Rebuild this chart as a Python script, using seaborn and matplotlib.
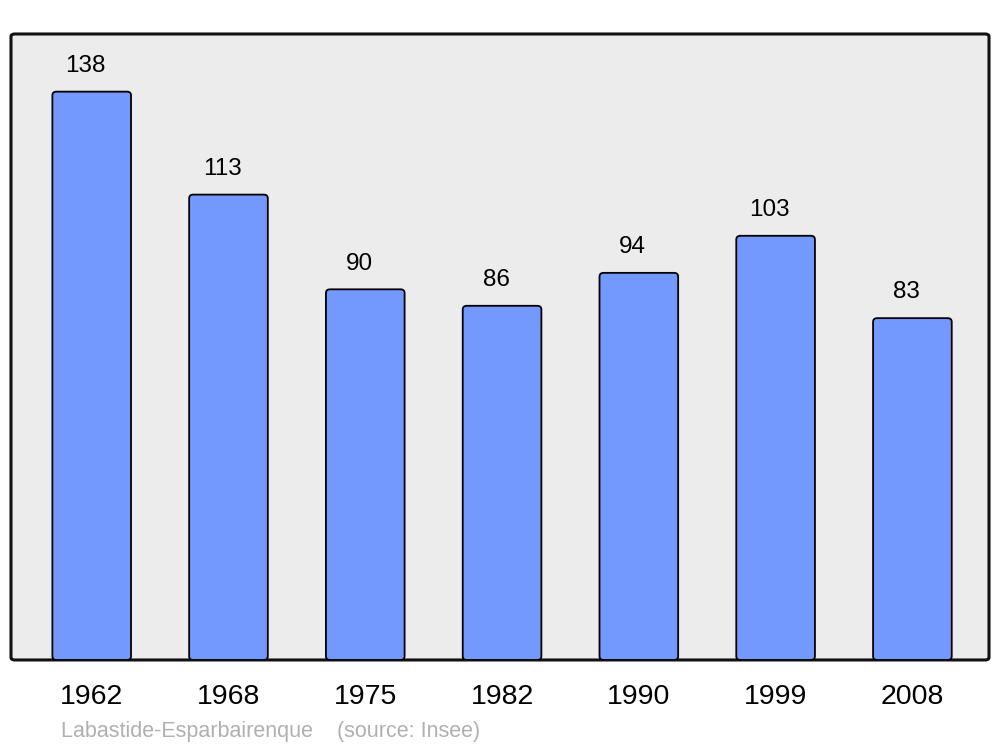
import pandas as pd
import seaborn as sns
import matplotlib.pyplot as plt
from matplotlib.patches import FancyBboxPatch

# Data
years = ['1962', '1968', '1975', '1982', '1990', '1999', '2008']
population = [138, 113, 90, 86, 94, 103, 83]
source_text = 'Labastide-Esparbairenque    (source: Insee)'

df = pd.DataFrame({'year': years, 'pop': population})

sns.set_theme(style='white')
plt.rcParams['font.family'] = ['Liberation Sans', 'DejaVu Sans']

fig = plt.figure(figsize=(10, 7.47), dpi=100)
ax = fig.add_axes([0.011, 0.1165, 0.978, 0.838])
ax.set_facecolor('none')

sns.barplot(data=df, x='year', y='pop', color='#7399ff', width=0.575,
            saturation=1, edgecolor='black', linewidth=1.3, ax=ax)

ax.set_xlim(-0.59, 6.56)
ax.set_ylim(0, 152)

# Swap the plain bars for rounded ones of the same geometry
for bar in list(ax.patches):
    x, y = bar.get_x(), bar.get_y()
    w, h = bar.get_width(), bar.get_height()
    rb = FancyBboxPatch((x, y), w, h, boxstyle='round,pad=0,rounding_size=0.03',
                        mutation_aspect=30, facecolor='#7399ff', edgecolor='black',
                        linewidth=1.3, zorder=3)
    bar.remove()
    ax.add_patch(rb)
    ax.annotate(f'{h:.0f}', (x + w / 2, y + h), xytext=(-4.3, 18.5), textcoords='offset points',
                ha='center', va='center', fontsize=17.5, color='black')

# rounded background frame
frame = FancyBboxPatch((0, 0), 1, 1, boxstyle='round,pad=0,rounding_size=0.004',
                       transform=ax.transAxes, facecolor='#ececec', edgecolor='#111111',
                       linewidth=2.2, zorder=0, clip_on=False)
ax.add_patch(frame)
for s in ax.spines.values():
    s.set_visible(False)

ax.set_yticks([])
ax.set_xlabel('')
ax.set_ylabel('')
ax.tick_params(axis='x', length=0, pad=17, labelsize=20.5, labelcolor='black')
for lbl in ax.get_xticklabels():
    lbl.set_x(lbl.get_position()[0])

fig.text(0.061, 1 - 731 / 747, source_text, ha='left', va='center', fontsize=15.5, color='#b0b0b0')

fig.savefig('out.png', dpi=100)
